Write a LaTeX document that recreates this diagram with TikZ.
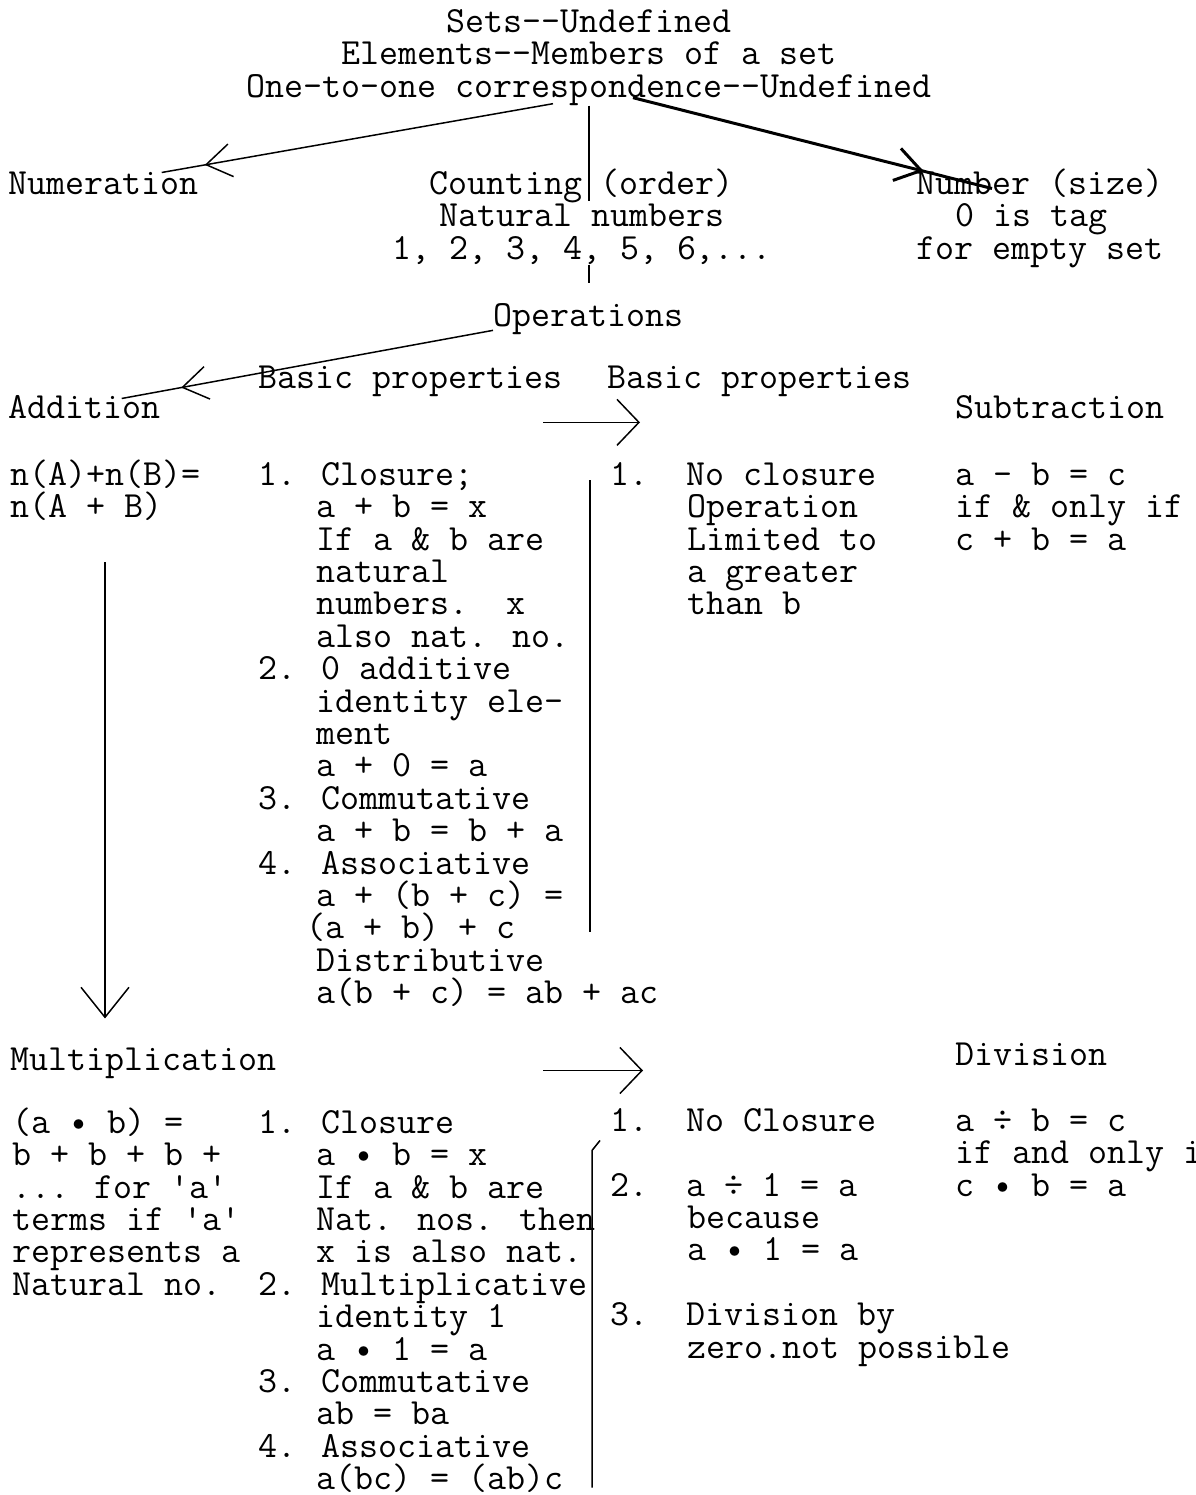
\documentclass[tikz,border=0pt]{standalone}
\usepackage{fontspec}
\usepackage{tikz}
\usetikzlibrary{arrows.meta, calc, decorations.markings, positioning}
% typewriter indent, in characters
\newcommand{\tind}[1]{\hspace*{#1\dimexpr 0.525em\relax}}
% first-line strut, so that a node's y is its first baseline
\newcommand{\ts}{\rule{0pt}{16.8pt}}
\tikzset{
	tw/.style ={font=\ttfamily\fontsize{21pt}{18.44pt}\selectfont, inner sep=0pt, anchor=north west, yshift=16.8pt, align=left},
	twc/.style={tw, anchor=north, align=center},
	link/.style={line width=0.85pt},
	barb/.style={-{Straight Barb[length=0.44cm, width=0.92cm]}},
	downbarb/.style={-{Straight Barb[length=0.6cm, width=0.96cm]}},
	midbarb/.style={postaction={decorate}, decoration={markings, mark=at position #1 with {\arrow{Straight Barb[length=0.5cm, width=0.66cm]}}}},
}
\begin{document}
\begin{tikzpicture}[x=0.02cm, y=-0.02cm]
	\path[fill=white, use as bounding box] (0,0) rectangle (1196,1495);

	% top of the tree
	\node[twc] (title) at (589,32) {\ts Sets--Undefined\\Elements--Members of a set\\One-to-one correspondence--Undefined};
	\node[tw]  (numer) at (8,194)   {\ts Numeration};
	\node[twc] (count) at (582,194) {\ts Counting (order)\\Natural numbers\\1, 2, 3, 4, 5, 6,...};
	\node[tw]  (numb)  at (916,194) {\ts Number (size)\\\tind{2}0 is tag\\for empty set};
	\node[tw]  (oper)  at (493,326) {\ts Operations};

	% addition / subtraction
	\node[tw] (basicl) at (258,388) {\ts Basic properties};
	\node[tw] (basicr) at (607,388) {\ts Basic properties};
	\node[tw] (add)    at (8,418)   {\ts Addition};
	\node[tw] (sub)    at (955,418) {\ts Subtraction};
	\node[tw] (addf)   at (10,485)  {\ts n(A)+n(B)=\\n(A + B)};
	\node[tw] (addp)   at (258,485) {\ts 1. Closure;\\\tind{3}a + b = x\\\tind{3}If a \& b are\\\tind{3}natural\\\tind{3}numbers.\ \ x\\\tind{3}also nat. no.\\2. 0 additive\\\tind{3}identity ele-\\\tind{3}ment\\\tind{3}a + 0 = a\\3. Commutative\\\tind{3}a + b = b + a\\4. Associative\\\tind{3}a + (b + c) =\\\tind{2.5}(a + b) + c\\\tind{3}Distributive\\\tind{3}a(b + c) = ab + ac};
	\node[tw] (subp)   at (610,485) {\ts 1.\ \ No closure\\\tind{4}Operation\\\tind{4}Limited to\\\tind{4}a greater\\\tind{4}than b};
	\node[tw] (subf)   at (955,485) {\ts a - b = c\\if \& only if\\c + b = a};

	% multiplication / division
	\node[tw] (mult)  at (10,1070)  {\ts Multiplication};
	\node[tw] (div)   at (955,1065) {\ts Division};
	\node[tw] (multf) at (12,1133)  {\ts (a • b) =\\b + b + b +\\... for 'a'\\terms if 'a'\\represents a\\Natural no.};
	\node[tw] (multp) at (258,1133) {\ts 1. Closure\\\tind{3}a • b = x\\\tind{3}If a \& b are\\\tind{3}Nat. nos. then\\\tind{3}x is also nat.\\2. Multiplicative\\\tind{3}identity 1\\\tind{3}a • 1 = a\\3. Commutative\\\tind{3}ab = ba\\4. Associative\\\tind{3}a(bc) = (ab)c};
	\node[tw] (divp)  at (610,1131) {\ts 1.\ \ No Closure\\\mbox{}\\2.\ \ a ÷ 1 = a\\\tind{4}because\\\tind{4}a • 1 = a\\\mbox{}\\3.\ \ Division by\\\tind{4}zero.not possible};
	\node[tw] (divf)  at (955,1131) {\ts a ÷ b = c\\if and only if\\c • b = a};

	% connectors
	\draw[link, midbarb=0.89] ($(title.south)+(-36,-2)$) -- ($(numer.north east)+(-37,8)$);
	\draw[link] (title.south) -- ($(title.south)+(0,95)$);
	\draw[line width=1.7pt, midbarb=0.81] ($(title.south)+(44,-8)$) -- ($(numb.north west)+(76,24)$);
	\draw[link] (count.south -| title.south) -- ($(oper.north -| title.south)+(0,-13)$);
	\draw[link, midbarb=0.84] ($(oper.base west)+(0,4)$) -- ($(add.north east)+(-39,10)$);
	\draw[link, barb] ($(basicr.base west)+(-64,34)$) -- ($(basicr.base west)+(33,34)$);
	\draw[link, downbarb] ($(addf.south west)+(95,41)$) -- ($(mult.north west)+(95,-22)$);
	\draw[link] ($(subp.north west)+(-20,25)$) -- ($(subp.north west)+(-20,477)$);
	\draw[link, barb] ($(divp.north west)+(-67,-31)$) -- ($(divp.north west)+(33,-31)$);
	\draw[link] ($(divp.north west)+(-10,39)$) -- ($(divp.north west)+(-18,49)$) -- ($(divp.north west)+(-18,386)$);
\end{tikzpicture}
\end{document}
